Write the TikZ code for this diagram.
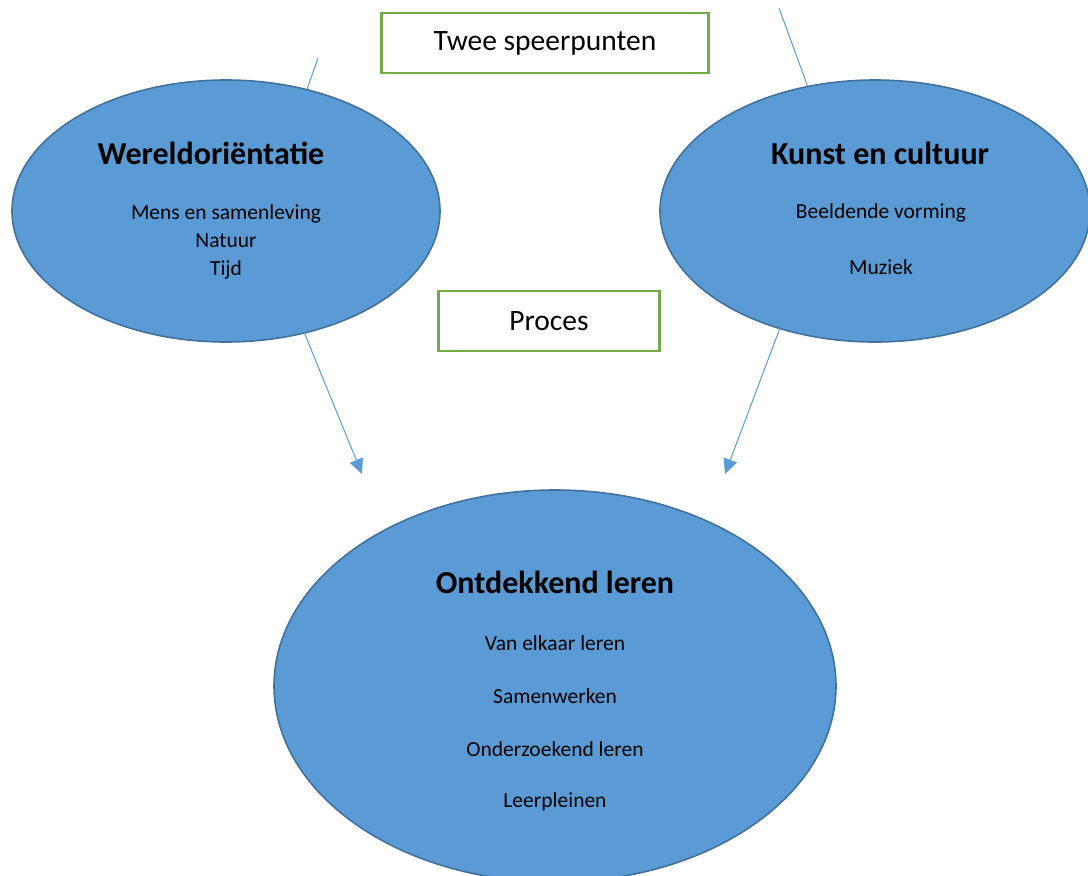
\documentclass[tikz,border=0pt]{standalone}
\usepackage{fontspec}
\setmainfont{Carlito}
\usetikzlibrary{arrows.meta,shapes.geometric}
\definecolor{bolblauw}{HTML}{5B9BD5}
\definecolor{bolrand}{HTML}{41719C}
\definecolor{kadergroen}{HTML}{70AD47}
\tikzset{
  bol/.style={ellipse, fill=bolblauw, draw=bolrand, line width=1.6pt, inner sep=0pt},
  kader/.style={rectangle, draw=kadergroen, line width=2.3pt, fill=white, inner sep=0pt},
  lijn/.style={draw=bolblauw, line width=1pt},
  pijl/.style={lijn, -{Triangle[length=15pt,width=14pt]}},
  kop/.style={font=\fontsize{32}{36}\selectfont\bfseries},
  tekst/.style={font=\fontsize{21.5}{28}\selectfont}
}
\begin{document}
\begin{tikzpicture}[x=1pt, y=-1pt]
			%%%%% START %%%%%
			\useasboundingbox (0,0) rectangle (1088,876);
			
			\coordinate (wboven) at (318,58);
			\coordinate (wonder) at (362,474);
			\coordinate (kboven) at (779,8);
			\coordinate (konder) at (725,474);
			
			\draw[lijn] (wboven) -- (306,92);
			\draw[lijn] (kboven) -- (809,90);
			
			\node[bol, minimum width=428pt, minimum height=262pt] (wereld) at (226,211) {};
			\node[bol, minimum width=430pt, minimum height=262pt] (kunst) at (875,211) {};
			\node[bol, minimum width=562pt, minimum height=392pt] (ontdek) at (555,686) {};
			
			\draw[pijl] (304,332) -- (wonder);
			\draw[pijl] (780,328) -- (konder);
			
			\node[kader, minimum width=327pt, minimum height=60pt] (speer) at (545,43) {\fontsize{29.5}{32}\selectfont Twee speerpunten};
			\node[kader, minimum width=221pt, minimum height=60pt] (proces) at (549,321) {\fontsize{29.5}{32}\selectfont Proces};
			
			\node[kop] at (211,153) {Wereldoriëntatie};
			\node[tekst, align=center] at (226,242) {Mens en samenleving\\Natuur\\Tijd};
			
			\node[kop] at (880,153) {Kunst en cultuur};
			\node[tekst] at (881,213) {Beeldende vorming};
			\node[tekst] at (881,267) {Muziek};
			
			\node[kop] at (555,582) {Ontdekkend leren};
			\node[tekst] at (555,643) {Van elkaar leren};
			\node[tekst] at (555,696) {Samenwerken};
			\node[tekst] at (555,749) {Onderzoekend leren};
			\node[tekst] at (555,802) {Leerpleinen};
			
			%%%%% END %%%%%
		\end{tikzpicture}
\end{document}
